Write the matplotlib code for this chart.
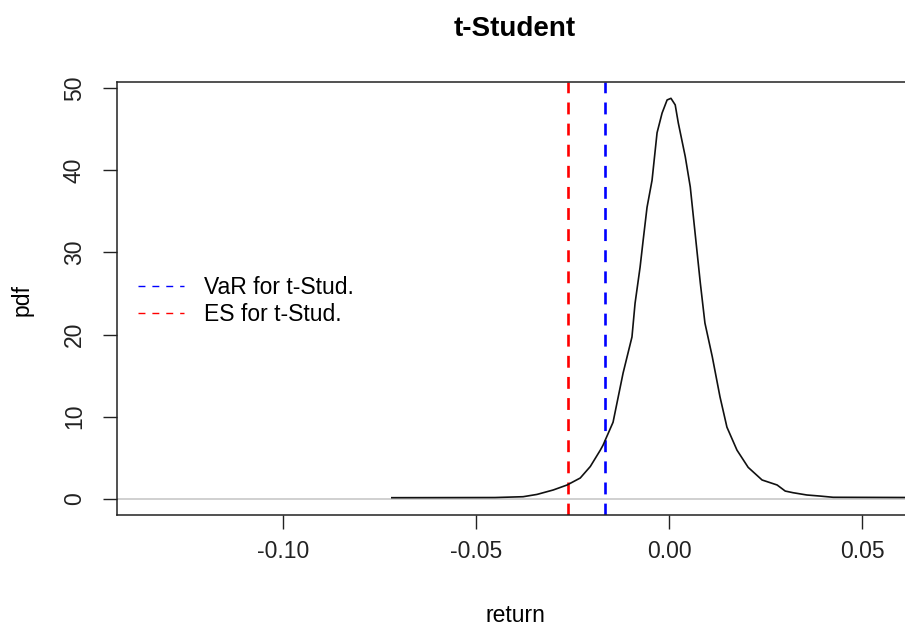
import matplotlib
matplotlib.use('Agg')
import matplotlib.pyplot as plt

plt.rcParams['font.family'] = ['Liberation Sans', 'DejaVu Sans']

# density curve (return, pdf)
ret = [-0.0719, -0.0452, -0.0379, -0.0343, -0.0301, -0.0265, -0.0231, -0.0205,
       -0.0179, -0.0172, -0.0146, -0.0120, -0.0097, -0.0089, -0.0076, -0.0068,
       -0.0058, -0.0045, -0.0032, -0.0019, -0.0006, 0.0004, 0.0015, 0.0023,
       0.0041, 0.0054, 0.0072, 0.0080, 0.0092, 0.0111, 0.0131, 0.0149,
       0.0175, 0.0204, 0.0240, 0.0279, 0.0300, 0.0320, 0.0356, 0.0390,
       0.0424, 0.0800]
pdf = [0.10, 0.12, 0.22, 0.50, 1.04, 1.65, 2.50, 3.90,
       5.90, 6.50, 9.30, 15.3, 19.7, 23.8, 28.2, 31.5,
       35.5, 38.8, 44.6, 47.0, 48.6, 48.8, 48.0, 45.8,
       41.7, 38.0, 29.9, 26.3, 21.4, 17.3, 12.4, 8.7,
       5.9, 3.8, 2.26, 1.65, 0.91, 0.71, 0.43, 0.30,
       0.15, 0.10]

VAR = -0.0168
ES = -0.0264

x_ticks = [-0.10, -0.05, 0.00, 0.05]
x_labels = ['-0.10', '-0.05', '0.00', '0.05']
y_ticks = [0, 10, 20, 30, 40, 50]

FS = 16.5

fig = plt.figure(figsize=(9.05, 6.25), dpi=100, facecolor='white')
# plot region: the right border falls just outside the picture
ax = fig.add_axes([117 / 905, 110 / 625, (913 - 117) / 905, 433 / 625])

ax.axhline(0, color='#c8c8c8', lw=1.2, zorder=1)
ax.plot(ret, pdf, color='#111111', lw=1.2, zorder=3)
ax.axvline(VAR, color='blue', lw=1.9, dashes=(4.5, 3.5), label='VaR for t-Stud.', zorder=2)
ax.axvline(ES, color='red', lw=1.9, dashes=(4.5, 3.5), label='ES for t-Stud.', zorder=2)

ax.set_xlim(-0.1431, 0.0631)
ax.set_ylim(-2.01, 50.79)
ax.set_xticks(x_ticks)
ax.set_xticklabels(x_labels)
ax.set_yticks(y_ticks)
ax.tick_params(length=10, width=1, labelsize=FS, colors='#222222')
ax.tick_params(axis='x', pad=8)
ax.tick_params(axis='y', labelrotation=90, pad=12.5)
for lab in ax.get_yticklabels():
    lab.set_va('center')
for sp in ax.spines.values():
    sp.set_linewidth(1.1)
    sp.set_color('#222222')

# legend without frame, thin dashed handles
leg = ax.legend(loc='upper left', bbox_to_anchor=(0.0264, 0.551), frameon=False,
                fontsize=FS, handlelength=2.0, handletextpad=0.9,
                labelspacing=0.15, borderpad=0, borderaxespad=0)
for h in leg.get_lines():
    h.set_linewidth(1.0)
    h.set_dashes((5, 5))

fig.text(515 / 905, 1 - 29 / 625, 't-Student', ha='center', va='center',
         fontsize=20, fontweight='bold')
fig.text(515 / 905, 1 - 615 / 625, 'return', ha='center', va='center', fontsize=FS)
fig.text(22 / 905, 1 - 300 / 625, 'pdf', ha='center', va='center', rotation=90, fontsize=FS)

fig.savefig('out.png', dpi=100, facecolor='white')
